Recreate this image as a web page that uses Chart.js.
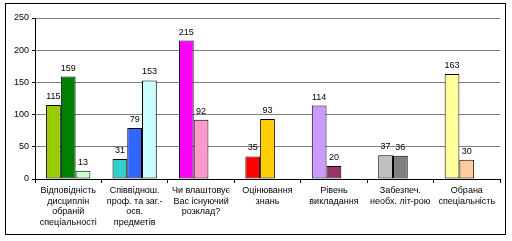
<!DOCTYPE html>
<html><head><meta charset="utf-8">
<script src="https://cdn.jsdelivr.net/npm/chart.js@4"></script>
<style>html,body{margin:0;padding:0;background:#fff}#wrap{width:512px;height:241px;position:relative}</style>
</head><body><div id="wrap"><canvas id="c" width="512" height="241"></canvas></div>
<script>
const categories = [
  ["Відповідність","дисциплін","обраній","спеціальності"],
  ["Співвіднош.","проф. та заг.-","осв.","предметів"],
  ["Чи влаштовує","Вас існуючий","розклад?"],
  ["Оцінювання","знань"],
  ["Рівень","викладання"],
  ["Забезпеч.","необх. літ-рою"],
  ["Обрана","спеціальність"]
];
const series1 = [115, 31, 215, 35, 114, 37, 163];
const series2 = [159, 79, 92, 93, 20, 36, 30];
const series3 = [13, 153, null, null, null, null, null];
const colors1 = ['#99CC00','#33CCCC','#FF00FF','#FF0000','#CC99FF','#C0C0C0','#FFFF99'];
const colors2 = ['#008000','#3366FF','#FF99CC','#FFCC00','#993366','#808080','#FFCC99'];
const colors3 = ['#CCFFCC','#CCFFFF','#FFFFFF','#FFFFFF','#FFFFFF','#FFFFFF','#FFFFFF'];
const yMax = 250, yStep = 50;

const FONT = "'Liberation Sans', Arial, sans-serif";

const labelPlugin = {
  id: 'vals',
  afterDatasetsDraw(chart) {
    const ctx = chart.ctx;
    ctx.save();
    ctx.font = '9px ' + FONT;
    ctx.fillStyle = '#000';
    ctx.textAlign = 'center';
    ctx.textBaseline = 'alphabetic';
    chart.data.datasets.forEach((ds, i) => {
      chart.getDatasetMeta(i).data.forEach((el, j) => {
        const v = ds.data[j];
        if (v === null || v === undefined) return;
        ctx.fillText(String(v), el.x, el.y - 6);
      });
    });
    ctx.restore();
  }
};
const borderPlugin = {
  id: 'outer',
  beforeDraw(chart) {
    const ctx = chart.ctx;
    ctx.save();
    ctx.fillStyle = '#fff';
    ctx.fillRect(0, 0, chart.width, chart.height);
    ctx.restore();
  },
  afterDraw(chart) {
    const ctx = chart.ctx;
    ctx.save();
    ctx.strokeStyle = '#000';
    ctx.lineWidth = 1;
    ctx.strokeRect(5.5, 3.5, 500, 231);
    ctx.restore();
  }
};

function mk(data, colors) {
  return { data, backgroundColor: colors, borderColor: '#000', borderWidth: 1,
           categoryPercentage: 3/4.5, barPercentage: 1, borderSkipped: false };
}

new Chart(document.getElementById('c'), {
  type: 'bar',
  data: { labels: categories, datasets: [mk(series1, colors1), mk(series2, colors2), mk(series3, colors3)] },
  options: {
    responsive: false, animation: false, devicePixelRatio: 1,
    layout: { padding: { left: 0, right: 12, top: 18, bottom: 0 } },
    plugins: { legend: { display: false }, tooltip: { enabled: false } },
    scales: {
      x: {
        afterFit(s) { s.height = 62; },
        grid: { offset: true, drawOnChartArea: false, drawTicks: true, tickLength: 4, color: '#000' },
        border: { display: true, color: '#000', width: 1 },
        ticks: { color: '#000', font: { family: FONT, size: 9, lineHeight: 1.2 }, padding: 2, maxRotation: 0, autoSkip: false }
      },
      y: {
        min: 0, max: yMax,
        afterFit(s) { s.width = 35; },
        grid: { color: '#808080', tickColor: '#000', tickLength: 3, drawTicks: true },
        border: { display: true, color: '#000', width: 1 },
        ticks: { stepSize: yStep, color: '#000', font: { family: FONT, size: 9 }, padding: 3 }
      }
    }
  },
  plugins: [labelPlugin, borderPlugin]
});
</script></body></html>
